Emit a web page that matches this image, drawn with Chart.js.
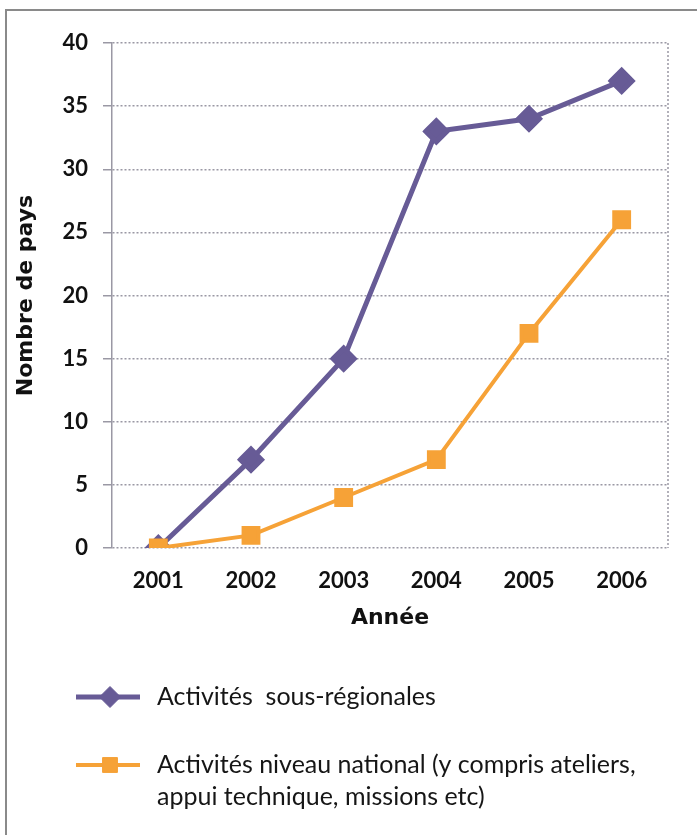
<!DOCTYPE html>
<html lang="fr">
<head>
<meta charset="utf-8">
<title>Nombre de pays par année</title>
<script src="https://cdn.jsdelivr.net/npm/chart.js@4.4.1/dist/chart.umd.min.js"></script>
<style>
  html, body { margin: 0; padding: 0; background: #ffffff; }
  #wrap { position: relative; width: 697px; height: 835px; }
</style>
</head>
<body>
<div id="wrap"><canvas id="chart" width="697" height="835"></canvas></div>
<script>
// Années et valeurs des deux séries
const years = ['2001', '2002', '2003', '2004', '2005', '2006'];
const sousRegionales = [0, 7, 15, 33, 34, 37];
const niveauNational = [0, 1, 4, 7, 17, 26];

// Libellés de la légende (une entrée par ligne de texte)
const legendSousRegionales = ['Activités  sous-régionales'];
const legendNiveauNational = ['Activités niveau national (y compris ateliers,', 'appui technique, missions etc)'];

const yTitle = 'Nombre de pays';
const xTitle = 'Année';

const PURPLE = '#675b96';
const ORANGE = '#f6a237';
const GRID = '#9a98a4';
const FONT = 'Lato, "Open Sans", sans-serif';
const TITLE_FONT = '"DejaVu Sans", sans-serif';

// Cadre gris (haut et gauche) autour de la figure
const framePlugin = {
  id: 'frame',
  beforeDraw(chart) {
    const ctx = chart.ctx;
    ctx.save();
    ctx.strokeStyle = '#8a8a8a';
    ctx.lineWidth = 2;
    ctx.beginPath();
    ctx.moveTo(697, 10);
    ctx.lineTo(6, 10);
    ctx.lineTo(6, 835);
    ctx.stroke();
    ctx.restore();
  }
};

// Bord droit pointillé de la zone de tracé
const plotEdgePlugin = {
  id: 'plotEdge',
  beforeDatasetsDraw(chart) {
    const { ctx, chartArea } = chart;
    ctx.save();
    ctx.strokeStyle = GRID;
    ctx.lineWidth = 1.5;
    ctx.setLineDash([2, 2]);
    ctx.beginPath();
    ctx.moveTo(chartArea.right, chartArea.top);
    ctx.lineTo(chartArea.right, chartArea.bottom);
    ctx.stroke();
    ctx.restore();
  }
};

// Légende sous le graphique : trait + marqueur + texte sur plusieurs lignes
const legendPlugin = {
  id: 'customLegend',
  afterDraw(chart) {
    const ctx = chart.ctx;
    const entries = [
      { ds: chart.data.datasets[1], lines: legendSousRegionales, y: 697 },
      { ds: chart.data.datasets[0], lines: legendNiveauNational, y: 765 }
    ];
    ctx.save();
    entries.forEach(e => {
      ctx.strokeStyle = e.ds.borderColor;
      ctx.lineWidth = e.ds.borderWidth;
      ctx.setLineDash([]);
      ctx.beginPath();
      ctx.moveTo(76, e.y);
      ctx.lineTo(140, e.y);
      ctx.stroke();
      ctx.fillStyle = e.ds.pointBackgroundColor;
      ctx.strokeStyle = e.ds.pointBorderColor;
      ctx.lineWidth = 1;
      Chart.helpers.drawPoint(ctx, {
        pointStyle: e.ds.pointStyle,
        radius: e.ds.pointRadius,
        rotation: 0,
        borderWidth: 1
      }, 110, e.y);
      ctx.fillStyle = '#161616';
      ctx.font = '25px ' + FONT;
      ctx.textAlign = 'left';
      ctx.textBaseline = 'middle';
      e.lines.forEach((t, i) => ctx.fillText(t, 157, e.y + i * 32));
    });
    ctx.restore();
  }
};

new Chart(document.getElementById('chart'), {
  type: 'line',
  data: {
    labels: years,
    datasets: [
      {
        label: legendNiveauNational.join(' '),
        data: niveauNational,
        borderColor: ORANGE,
        backgroundColor: ORANGE,
        pointBackgroundColor: ORANGE,
        pointBorderColor: ORANGE,
        borderWidth: 4,
        pointStyle: 'rect',
        pointRadius: 10.5,
        tension: 0,
        order: 0
      },
      {
        label: legendSousRegionales.join(' '),
        data: sousRegionales,
        borderColor: PURPLE,
        backgroundColor: PURPLE,
        pointBackgroundColor: PURPLE,
        pointBorderColor: PURPLE,
        borderWidth: 5,
        pointStyle: 'rectRot',
        pointRadius: 10.5,
        tension: 0,
        order: 1
      }
    ]
  },
  options: {
    responsive: false,
    animation: false,
    layout: { padding: { left: 0, right: 29, top: 43, bottom: 204 } },
    plugins: {
      legend: { display: false },
      tooltip: { enabled: false }
    },
    scales: {
      x: {
        offset: true,
        grid: { display: false, drawTicks: false },
        border: { display: false },
        ticks: {
          color: '#111111',
          padding: 20,
          font: { family: FONT, size: 22, weight: 'bold' }
        },
        title: {
          display: true,
          text: xTitle,
          color: '#111111',
          padding: { top: 0, bottom: 0 },
          font: { family: TITLE_FONT, size: 22, weight: 'bold' }
        },
        afterFit(scale) { scale.height = 83; }
      },
      y: {
        min: 0,
        max: 40,
        grid: {
          color: GRID,
          lineWidth: 1.5,
          tickLength: 9,
          drawTicks: true
        },
        border: { display: true, color: GRID, width: 1.5, dash: [2, 2] },
        ticks: {
          stepSize: 5,
          color: '#111111',
          padding: 15,
          font: { family: FONT, size: 22, weight: 'bold' }
        },
        title: {
          display: true,
          text: yTitle,
          color: '#111111',
          padding: { top: 13, bottom: 0 },
          font: { family: TITLE_FONT, size: 22, weight: 'bold' }
        },
        afterFit(scale) { scale.width = 112; }
      }
    }
  },
  plugins: [framePlugin, plotEdgePlugin, legendPlugin]
});
</script>
</body>
</html>
